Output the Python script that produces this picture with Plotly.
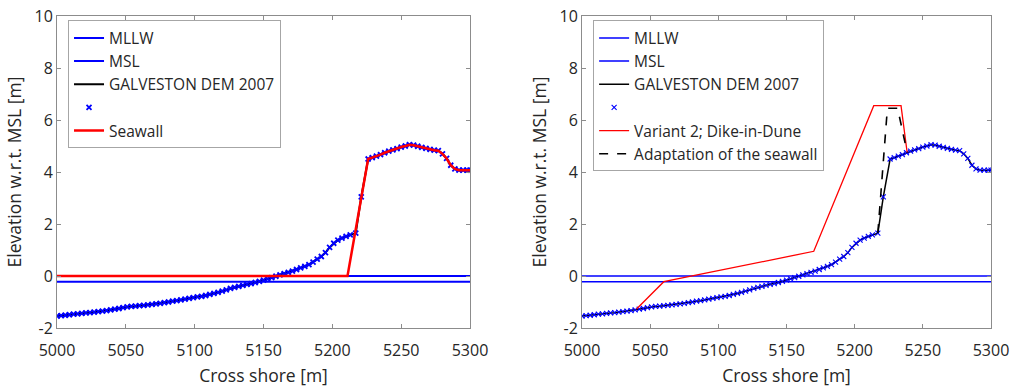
import plotly.graph_objects as go

# Cross-shore DEM profile (Galveston DEM 2007)
cross_shore = [
    5000, 5003, 5006, 5009, 5012, 5015, 5018, 5021, 5024, 5027,
    5030, 5033, 5036, 5039, 5042, 5045, 5048, 5051, 5054, 5057,
    5060, 5063, 5066, 5069, 5072, 5075, 5078, 5081, 5084, 5087,
    5090, 5093, 5096, 5099, 5102, 5105, 5108, 5111, 5114, 5117,
    5120, 5123, 5126, 5129, 5132, 5135, 5138, 5141, 5144, 5147,
    5150, 5153, 5156, 5159, 5162, 5165, 5168, 5171, 5174, 5177,
    5180, 5183, 5186, 5189, 5192, 5195, 5198, 5201, 5204, 5207,
    5210, 5213, 5217, 5221, 5226, 5229, 5232, 5235, 5238, 5241,
    5244, 5247, 5250, 5253, 5256, 5259, 5262, 5265, 5268, 5271,
    5274, 5277, 5280, 5283, 5286, 5289, 5292, 5295, 5298, 5300,
]
dem_elev = [
    -1.54, -1.52, -1.51, -1.49, -1.47, -1.46, -1.44, -1.42, -1.41, -1.39,
    -1.37, -1.35, -1.33, -1.30, -1.27, -1.25, -1.22, -1.19, -1.17, -1.16,
    -1.14, -1.13, -1.11, -1.09, -1.07, -1.05, -1.02, -1.00, -0.97, -0.95,
    -0.92, -0.89, -0.86, -0.83, -0.80, -0.78, -0.75, -0.71, -0.67, -0.63,
    -0.58, -0.53, -0.48, -0.44, -0.40, -0.36, -0.32, -0.29, -0.25, -0.21,
    -0.16, -0.11, -0.06, -0.01, 0.04, 0.09, 0.14, 0.19, 0.25, 0.31,
    0.37, 0.44, 0.53, 0.65, 0.75, 0.90, 1.10, 1.26, 1.38, 1.46,
    1.52, 1.58, 1.65, 3.04, 4.50, 4.55, 4.61, 4.67, 4.74, 4.80,
    4.85, 4.90, 4.96, 5.00, 5.05, 5.03, 4.99, 4.95, 4.91, 4.87,
    4.84, 4.82, 4.70, 4.52, 4.26, 4.12, 4.07, 4.07, 4.07, 4.07,
]

# Water levels w.r.t. MSL
x_extent = [5000, 5300]
mllw_level = -0.22
msl_level = 0.0

# Existing seawall: flat toe, then the wall face up to the crest on the dune
seawall_toe_x = [5000, 5211]
seawall_toe_y = [0.0, 0.0]
seawall_crest_x = 5226

# Variant 2: dike-in-dune
dike_x = [5040, 5060, 5170, 5214, 5234, 5238.5]
dike_y = [-1.27, -0.22, 0.95, 6.55, 6.55, 4.75]

# Adaptation of the seawall
adapt_x = [5217, 5224, 5231.5, 5238.5]
adapt_y = [1.65, 6.45, 6.45, 4.75]

x_ticks = [5000, 5050, 5100, 5150, 5200, 5250, 5300]
y_ticks = [-2, 0, 2, 4, 6, 8, 10]
y_tick_text = ["-2", "0", "2", "4", "6", "8", "10"]

BLUE = "#0000ff"
RED = "#ff0000"
BLACK = "#000000"
FONT = "Open Sans"
AXIS_GREY = "#8c8c8c"
TEXT_GREY = "#262626"

seawall_x = seawall_toe_x + [x for x in cross_shore if x >= seawall_crest_x]
seawall_y = seawall_toe_y + [y for x, y in zip(cross_shore, dem_elev) if x >= seawall_crest_x]

fig = go.Figure()


def add_common(xa, ya, leg, lw, mk_w, dem_w):
    fig.add_trace(go.Scatter(x=x_extent, y=[mllw_level] * 2, mode="lines", name="MLLW",
                             line=dict(color=BLUE, width=lw), xaxis=xa, yaxis=ya, legend=leg))
    fig.add_trace(go.Scatter(x=x_extent, y=[msl_level] * 2, mode="lines", name="MSL",
                             line=dict(color=BLUE, width=lw), xaxis=xa, yaxis=ya, legend=leg))
    fig.add_trace(go.Scatter(x=cross_shore, y=dem_elev, mode="lines", name="GALVESTON DEM 2007",
                             line=dict(color=BLACK, width=dem_w), xaxis=xa, yaxis=ya, legend=leg))
    fig.add_trace(go.Scatter(x=cross_shore, y=dem_elev, mode="markers", name=" ",
                             marker=dict(symbol="x-thin", size=5, color=BLUE,
                                         line=dict(color=BLUE, width=mk_w)),
                             xaxis=xa, yaxis=ya, legend=leg))


# Left panel: existing seawall
add_common("x", "y", "legend", 2, 1.8, 2)
fig.add_trace(go.Scatter(x=seawall_x, y=seawall_y, mode="lines", name="Seawall",
                         line=dict(color=RED, width=2.5), xaxis="x", yaxis="y", legend="legend"))

# Right panel: dike-in-dune variant
add_common("x2", "y2", "legend2", 1.5, 1.1, 1.5)
fig.add_trace(go.Scatter(x=dike_x, y=dike_y, mode="lines", name="Variant 2; Dike-in-Dune",
                         line=dict(color=RED, width=1.3), xaxis="x2", yaxis="y2", legend="legend2"))
fig.add_trace(go.Scatter(x=adapt_x, y=adapt_y, mode="lines", name="Adaptation of the seawall",
                         line=dict(color=BLACK, width=1.6, dash="dash"), xaxis="x2", yaxis="y2",
                         legend="legend2"))


def x_axis(domain, anchor):
    return dict(domain=domain, anchor=anchor, range=x_extent, tickvals=x_ticks,
                ticks="inside", ticklen=4, tickcolor=AXIS_GREY, showline=True,
                linecolor=AXIS_GREY, linewidth=1, mirror="allticks", showgrid=False,
                zeroline=False, ticklabelstandoff=8, automargin=False,
                tickfont=dict(family=FONT, size=16, color=TEXT_GREY),
                title=dict(text="Cross shore [m]", standoff=12,
                           font=dict(family=FONT, size=17.5, color=TEXT_GREY)))


def y_axis(anchor):
    return dict(domain=[0, 1], anchor=anchor, range=[-2, 10], tickvals=y_ticks,
                ticktext=y_tick_text, ticks="inside", ticklen=4, tickcolor=AXIS_GREY,
                showline=True, linecolor=AXIS_GREY, linewidth=1, mirror="allticks",
                showgrid=False, zeroline=False, automargin=False,
                tickfont=dict(family=FONT, size=16, color=TEXT_GREY),
                title=dict(text="Elevation w.r.t. MSL [m]", standoff=8,
                           font=dict(family=FONT, size=17.5, color=TEXT_GREY)))


legend_style = dict(bgcolor="white", bordercolor="#a6a6a6", borderwidth=1,
                    font=dict(family=FONT, size=15.5, color=TEXT_GREY),
                    xanchor="left", yanchor="top", itemwidth=30, tracegroupgap=0,
                    xref="paper", yref="paper")

fig.update_layout(
    width=1011, height=387,
    margin=dict(l=57, r=20, t=16, b=59, autoexpand=False),
    paper_bgcolor="white", plot_bgcolor="white",
    showlegend=True,
    xaxis=x_axis([0, 0.4422], "y"),
    yaxis=y_axis("x"),
    xaxis2=x_axis([0.5621, 1.0], "y2"),
    yaxis2=y_axis("x2"),
    legend=dict(legend_style, x=0.0118, y=0.986),
    legend2=dict(legend_style, x=0.574, y=0.986),
)

fig.write_html("out.html")
